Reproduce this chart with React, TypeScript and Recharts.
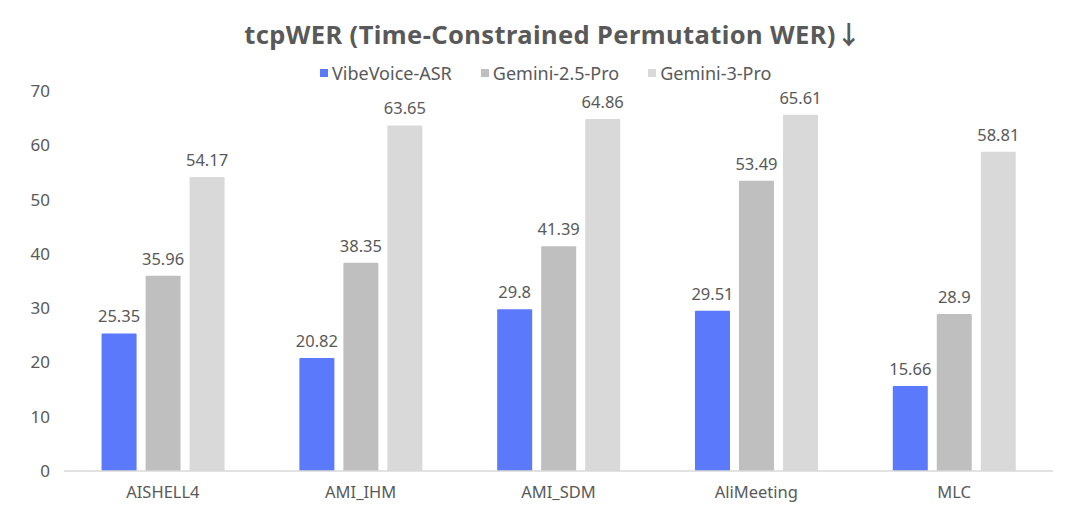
import React from 'react';
import { BarChart, Bar, XAxis, YAxis, LabelList } from 'recharts';

const categories = ['AISHELL4', 'AMI_IHM', 'AMI_SDM', 'AliMeeting', 'MLC'];
const vibeVoice = [25.35, 20.82, 29.8, 29.51, 15.66];
const gemini25 = [35.96, 38.35, 41.39, 53.49, 28.9];
const gemini3 = [54.17, 63.65, 64.86, 65.61, 58.81];
const yTicks = [0, 10, 20, 30, 40, 50, 60, 70];

const series = [
  { key: 'vibe', name: 'VibeVoice-ASR', color: '#5b79fb' },
  { key: 'g25', name: 'Gemini-2.5-Pro', color: '#bfbfbf' },
  { key: 'g3', name: 'Gemini-3-Pro', color: '#d9d9d9' },
];

const FONT = '"Noto Sans", "Noto Sans CJK SC", sans-serif';
const TEXT = '#595959';

const data = categories.map((name, i) => ({
  name,
  vibe: vibeVoice[i],
  g25: gemini25[i],
  g3: gemini3[i],
}));

// legend is plain html so it doesn't push the plot area down
const ChartLegend = () => (
  <div
    style={{
      position: 'absolute',
      top: 61,
      left: 320,
      display: 'flex',
      gap: 29,
      fontFamily: FONT,
      fontSize: 18,
      color: TEXT,
      lineHeight: '24px',
    }}
  >
    {series.map(s => (
      <div key={s.key} style={{ display: 'flex', alignItems: 'center' }}>
        <span style={{ width: 8, height: 8, background: s.color, display: 'inline-block', marginRight: 4 }} />
        <span>{s.name}</span>
      </div>
    ))}
  </div>
);

export default function App() {
  return (
    <div style={{ position: 'relative', width: 1080, height: 521, background: '#fff', margin: -8 }}>
      <div
        style={{
          position: 'absolute',
          top: 17,
          left: 13,
          width: 1080,
          textAlign: 'center',
          fontFamily: FONT,
          fontWeight: 700,
          fontSize: 25.5,
          lineHeight: '34px',
          letterSpacing: 0.4,
          color: TEXT,
        }}
      >
        tcpWER (Time-Constrained Permutation WER)↓
      </div>
      <ChartLegend />
      <BarChart
        width={1080}
        height={521}
        data={data}
        margin={{ top: 91, right: 27, bottom: 0, left: 0 }}
        barCategoryGap="19%"
        barGap={9}
      >
        <XAxis
          dataKey="name"
          axisLine={{ stroke: '#d9d9d9', strokeWidth: 1.5 }}
          tickLine={false}
          tickMargin={9}
          height={50}
          tick={{ fill: TEXT, fontSize: 16.5, fontFamily: FONT }}
        />
        <YAxis
          domain={[0, 70]}
          ticks={yTicks}
          axisLine={false}
          tickLine={false}
          tickMargin={8}
          width={64}
          tick={{ fill: TEXT, fontSize: 17, fontFamily: FONT }}
        />
        {series.map(s => (
          <Bar key={s.key} dataKey={s.key} name={s.name} fill={s.color} isAnimationActive={false} radius={[1, 1, 0, 0]}>
            <LabelList dataKey={s.key} position="top" offset={11} fill={TEXT} fontSize={16.5} fontFamily={FONT} />
          </Bar>
        ))}
      </BarChart>
    </div>
  );
}
